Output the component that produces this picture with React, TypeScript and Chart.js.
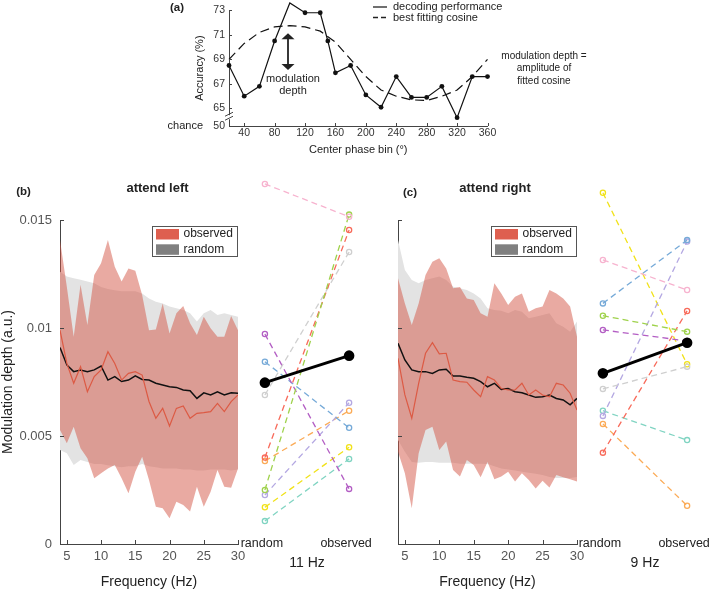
import React, { useEffect, useRef } from 'react';
import { Chart, registerables } from 'chart.js';

Chart.register(...registerables);

const FONT = "'Liberation Sans', Arial, Helvetica, sans-serif";
const AXIS_COLOR = '#444';

// ---------------- Panel (a) ----------------
const phaseBins = [20, 40, 60, 80, 100, 120, 140, 150, 160, 180, 200, 220, 240, 260, 280, 300, 320, 340, 360];
const decodingAccuracy = [68.5, 66.0, 66.8, 70.5, 73.6, 72.8, 72.8, 70.5, 67.9, 68.5, 66.1, 65.1, 67.6, 65.9, 65.9, 66.8, 64.25, 67.6, 67.6];
const cosineBins = [20, 40, 60, 80, 100, 120, 140, 160, 180, 200, 220, 240, 260, 280, 300, 320, 340, 360];
const cosineFit = [69.0, 70.3, 71.2, 71.65, 71.75, 71.65, 71.3, 70.4, 69.0, 67.6, 66.5, 66.0, 65.7, 65.65, 66.0, 66.5, 67.6, 69.0];
const phaseTicks = [40, 80, 120, 160, 200, 240, 280, 320, 360];
const accuracyTicks = [65, 67, 69, 71, 73];
const accuracyAxisBase = 63.57;
const chanceTickLabel = '50';
const legendA = ['decoding performance', 'best fitting cosine'];
const noteA = ['modulation depth =', 'amplitude of', 'fitted cosine'];
const arrowLabel = ['modulation', 'depth'];
const arrowPhase = 97.6;
const arrowSpan = [71.12, 68.14];

// ---------------- Panels (b) and (c) ----------------
const freqs = [4, 5, 6, 7, 8, 9, 10, 11, 12, 13, 14, 15, 16, 17, 18, 19, 20, 21, 22, 23, 24, 25, 26, 27, 28, 29, 30];
const freqTicks = [5, 10, 15, 20, 25, 30];
const depthTicks = [0, 0.005, 0.01, 0.015];
const depthTickLabels = ['0', '0.005', '0.01', '0.015'];
const bandLegendLabels = ['observed', 'random'];
const bandLegendColors = ['#de5f4f', '#808080'];

// attend left (b)
const leftRandUpper = [12.6e-3, 12.38e-3, 12.3e-3, 12.23e-3, 12.15e-3, 12.07e-3, 11.9e-3, 11.8e-3, 11.75e-3, 11.7e-3, 11.7e-3, 11.7e-3, 11.6e-3, 11.37e-3, 11.22e-3, 11.14e-3, 10.99e-3, 10.91e-3, 10.83e-3, 10.68e-3, 10.3e-3, 10.68e-3, 10.83e-3, 10.6e-3, 10.68e-3, 10.6e-3, 10.52e-3];
const leftRandLower = [4.35e-3, 4.2e-3, 3.66e-3, 3.89e-3, 3.8e-3, 3.7e-3, 3.7e-3, 3.65e-3, 3.6e-3, 3.55e-3, 3.6e-3, 3.6e-3, 3.7e-3, 3.6e-3, 3.55e-3, 3.5e-3, 3.5e-3, 3.5e-3, 3.45e-3, 3.45e-3, 3.4e-3, 3.4e-3, 3.45e-3, 3.45e-3, 3.45e-3, 3.4e-3, 3.45e-3];
const leftObsUpper = [14.07e-3, 11.9e-3, 9.6e-3, 12.0e-3, 10.14e-3, 12.45e-3, 13.0e-3, 14.07e-3, 12.84e-3, 12.15e-3, 12.76e-3, 12.65e-3, 11.53e-3, 9.9e-3, 9.93e-3, 11.14e-3, 9.75e-3, 10.68e-3, 11.02e-3, 10.22e-3, 9.68e-3, 10.52e-3, 9.99e-3, 9.6e-3, 9.6e-3, 10.56e-3, 9.9e-3];
const leftObsLower = [5.28e-3, 4.66e-3, 5.43e-3, 4.43e-3, 3.97e-3, 3.04e-3, 3.27e-3, 3.5e-3, 3.66e-3, 3.04e-3, 2.35e-3, 3.35e-3, 4.04e-3, 2.96e-3, 1.73e-3, 1.65e-3, 1.19e-3, 1.96e-3, 1.8e-3, 1.5e-3, 2.65e-3, 1.73e-3, 2.42e-3, 3.43e-3, 2.65e-3, 2.6e-3, 3.5e-3];
const leftRandMean = [9.1e-3, 8.29e-3, 7.98e-3, 8.06e-3, 7.98e-3, 8.06e-3, 8.24e-3, 7.59e-3, 7.75e-3, 7.52e-3, 7.59e-3, 7.78e-3, 7.62e-3, 7.59e-3, 7.44e-3, 7.36e-3, 7.28e-3, 7.25e-3, 7.13e-3, 7.1e-3, 6.74e-3, 7.0e-3, 6.9e-3, 7.05e-3, 6.9e-3, 7.0e-3, 6.98e-3];
const leftObsMean = [9.9e-3, 8.36e-3, 7.44e-3, 8.21e-3, 7.05e-3, 7.75e-3, 8.06e-3, 8.9e-3, 8.36e-3, 7.59e-3, 7.9e-3, 7.98e-3, 7.82e-3, 6.6e-3, 5.82e-3, 6.28e-3, 5.46e-3, 6.28e-3, 6.39e-3, 5.82e-3, 6.05e-3, 6.08e-3, 6.13e-3, 6.51e-3, 6.13e-3, 6.59e-3, 6.9e-3];

// attend right (c)
const rightRandUpper = [14.07e-3, 12.69e-3, 12.22e-3, 12.07e-3, 12.22e-3, 12.3e-3, 12.38e-3, 12.22e-3, 11.91e-3, 11.84e-3, 11.76e-3, 11.6e-3, 11.37e-3, 10.91e-3, 10.83e-3, 10.8e-3, 10.68e-3, 10.83e-3, 10.75e-3, 10.45e-3, 10.52e-3, 10.6e-3, 10.68e-3, 10.22e-3, 10.06e-3, 9.83e-3, 10.3e-3];
const rightRandLower = [4.81e-3, 4.27e-3, 3.8e-3, 3.76e-3, 3.8e-3, 3.8e-3, 3.76e-3, 3.76e-3, 3.76e-3, 3.72e-3, 3.72e-3, 3.72e-3, 3.72e-3, 3.7e-3, 3.6e-3, 3.5e-3, 3.45e-3, 3.4e-3, 3.35e-3, 3.3e-3, 3.25e-3, 3.2e-3, 3.1e-3, 3.05e-3, 3.05e-3, 3.05e-3, 3.1e-3];
const rightObsUpper = [12.3e-3, 11.14e-3, 10.14e-3, 11.14e-3, 12.45e-3, 13.07e-3, 13.23e-3, 12.76e-3, 11.84e-3, 11.9e-3, 11.37e-3, 11.3e-3, 10.68e-3, 10.52e-3, 12.07e-3, 11.6e-3, 11.07e-3, 11.45e-3, 11.6e-3, 10.75e-3, 10.91e-3, 11.0e-3, 11.76e-3, 11.6e-3, 11.37e-3, 11.0e-3, 9.6e-3];
const rightObsLower = [4.27e-3, 3.27e-3, 1.65e-3, 4.2e-3, 5.28e-3, 5.43e-3, 4.35e-3, 4.74e-3, 3.43e-3, 3.12e-3, 3.89e-3, 3.66e-3, 3.09e-3, 3.8e-3, 3.0e-3, 3.12e-3, 3.35e-3, 2.89e-3, 3.27e-3, 2.96e-3, 2.57e-3, 2.93e-3, 2.62e-3, 3.2e-3, 3.09e-3, 3.0e-3, 2.89e-3];
const rightRandMean = [9.29e-3, 8.52e-3, 8.06e-3, 7.98e-3, 7.98e-3, 7.9e-3, 8.06e-3, 8.09e-3, 7.78e-3, 7.78e-3, 7.72e-3, 7.67e-3, 7.52e-3, 7.28e-3, 7.44e-3, 7.16e-3, 7.2e-3, 7.05e-3, 7.0e-3, 6.9e-3, 6.79e-3, 6.82e-3, 6.9e-3, 6.74e-3, 6.67e-3, 6.44e-3, 6.74e-3];
const rightObsMean = [8.6e-3, 6.9e-3, 5.82e-3, 7.44e-3, 8.83e-3, 9.32e-3, 8.8e-3, 8.83e-3, 7.59e-3, 7.52e-3, 7.49e-3, 7.13e-3, 6.82e-3, 7.75e-3, 7.59e-3, 7.2e-3, 7.13e-3, 7.13e-3, 7.44e-3, 6.9e-3, 7.13e-3, 6.9e-3, 6.82e-3, 7.44e-3, 7.36e-3, 6.98e-3, 6.2e-3];

// paired subjects (pink, green, red, gray, purple, blue, lavender, orange, yellow, teal)
const pairCategories = ['random', 'observed'];
const pairColors = ['#f7b3cf', '#9fd24c', '#f86a5a', '#cfcfcf', '#b35ec4', '#76aad8', '#b4a8e2', '#fbab57', '#f1e21a', '#80d4c2'];
const pairLeftRandom = [16.67e-3, 2.5e-3, 4.0e-3, 6.9e-3, 9.72e-3, 8.44e-3, 2.27e-3, 3.84e-3, 1.7e-3, 1.06e-3];
const pairLeftObserved = [15.15e-3, 15.25e-3, 14.54e-3, 13.52e-3, 2.55e-3, 5.38e-3, 6.54e-3, 6.17e-3, 4.48e-3, 3.94e-3];
const pairLeftMean = [7.47e-3, 8.72e-3];
const pairRightRandom = [13.15e-3, 10.57e-3, 4.23e-3, 7.18e-3, 9.91e-3, 11.14e-3, 5.93e-3, 5.56e-3, 16.26e-3, 6.17e-3];
const pairRightObserved = [11.76e-3, 9.83e-3, 10.79e-3, 8.21e-3, 9.4e-3, 14.07e-3, 14.0e-3, 1.77e-3, 8.32e-3, 4.81e-3];
const pairRightMean = [7.9e-3, 9.32e-3];

// ---------------- helpers ----------------
function drawInwardTicks(chart: any, xVals: number[], yVals: number[], len: number) {
  const { ctx, chartArea: a, scales } = chart;
  ctx.save();
  ctx.strokeStyle = AXIS_COLOR;
  ctx.lineWidth = 1;
  ctx.beginPath();
  xVals.forEach((v) => {
    const p = Math.round(scales.x.getPixelForValue(v)) + 0.5;
    ctx.moveTo(p, a.bottom);
    ctx.lineTo(p, a.bottom - len);
  });
  yVals.forEach((v) => {
    const p = Math.round(scales.y.getPixelForValue(v)) + 0.5;
    ctx.moveTo(a.left, p);
    ctx.lineTo(a.left + len, p);
  });
  ctx.stroke();
  ctx.restore();
}

const panelAPlugin = {
  id: 'panelADecor',
  afterDraw(chart: any) {
    const { ctx, chartArea: a, scales } = chart;
    const x = scales.x;
    const y = scales.y;
    drawInwardTicks(chart, phaseTicks, accuracyTicks, 3);
    ctx.save();
    // axis break
    const yb = (y.getPixelForValue(accuracyAxisBase) + y.getPixelForValue(accuracyTicks[0])) / 2;
    ctx.fillStyle = '#fff';
    ctx.fillRect(a.left - 2, yb - 2, 4, 4);
    ctx.strokeStyle = AXIS_COLOR;
    ctx.lineWidth = 1;
    ctx.beginPath();
    ctx.moveTo(a.left - 4, yb - 1);
    ctx.lineTo(a.left + 4, yb - 5);
    ctx.moveTo(a.left - 4, yb + 3);
    ctx.lineTo(a.left + 4, yb - 1);
    ctx.stroke();
    // chance label
    ctx.fillStyle = '#222';
    ctx.font = `11px ${FONT}`;
    ctx.textAlign = 'right';
    ctx.textBaseline = 'middle';
    ctx.fillText('chance', a.left - 26, y.getPixelForValue(accuracyAxisBase));
    // panel label
    ctx.font = `bold 11.5px ${FONT}`;
    ctx.fillText('(a)', 184, 8);
    // arrow
    const ax = x.getPixelForValue(arrowPhase);
    const y1 = y.getPixelForValue(arrowSpan[0]);
    const y2 = y.getPixelForValue(arrowSpan[1]);
    ctx.strokeStyle = '#222';
    ctx.fillStyle = '#222';
    ctx.lineWidth = 1.8;
    ctx.beginPath();
    ctx.moveTo(ax, y1 + 5);
    ctx.lineTo(ax, y2 - 5);
    ctx.stroke();
    ctx.beginPath();
    ctx.moveTo(ax, y1);
    ctx.lineTo(ax - 6.5, y1 + 6);
    ctx.lineTo(ax + 6.5, y1 + 6);
    ctx.closePath();
    ctx.fill();
    ctx.beginPath();
    ctx.moveTo(ax, y2);
    ctx.lineTo(ax - 6.5, y2 - 6);
    ctx.lineTo(ax + 6.5, y2 - 6);
    ctx.closePath();
    ctx.fill();
    ctx.font = `11px ${FONT}`;
    ctx.textAlign = 'center';
    ctx.fillText(arrowLabel[0], ax + 5, y2 + 9);
    ctx.fillText(arrowLabel[1], ax + 5, y2 + 21);
    // legend
    ctx.lineWidth = 1.3;
    ctx.beginPath();
    ctx.moveTo(373, 7);
    ctx.lineTo(387, 7);
    ctx.stroke();
    ctx.setLineDash([5, 3]);
    ctx.beginPath();
    ctx.moveTo(373, 17.5);
    ctx.lineTo(388, 17.5);
    ctx.stroke();
    ctx.setLineDash([]);
    ctx.textAlign = 'left';
    ctx.fillText(legendA[0], 393, 7);
    ctx.fillText(legendA[1], 393, 17.5);
    // note
    ctx.font = `10px ${FONT}`;
    ctx.textAlign = 'center';
    noteA.forEach((t, i) => ctx.fillText(t, 544, 56.5 + i * 12.2));
    ctx.restore();
  },
};

function panelAConfig(): any {
  return {
    type: 'line',
    data: {
      datasets: [
        {
          label: legendA[0],
          data: phaseBins.map((x, i) => ({ x, y: decodingAccuracy[i] })),
          borderColor: '#111',
          backgroundColor: '#111',
          borderWidth: 1.2,
          pointRadius: 2.4,
          pointBackgroundColor: '#111',
          pointBorderWidth: 0,
          clip: false,
          order: 1,
        },
        {
          label: legendA[1],
          data: cosineBins.map((x, i) => ({ x, y: cosineFit[i] })),
          borderColor: '#111',
          borderWidth: 1.2,
          borderDash: [9, 5],
          pointRadius: 0,
          clip: false,
          order: 2,
        },
      ],
    },
    options: {
      responsive: false,
      animation: false,
      events: [],
      layout: { padding: { left: 189, right: 221.5, top: 9, bottom: 0 }, autoPadding: false },
      plugins: { legend: { display: false }, tooltip: { enabled: false }, title: { display: false } },
      scales: {
        x: {
          type: 'linear',
          min: 20,
          max: 360,
          afterBuildTicks: (s: any) => { s.ticks = phaseTicks.map((value) => ({ value })); },
          afterFit: (s: any) => { s.height = 34; },
          grid: { display: false, drawTicks: false },
          border: { display: true, color: AXIS_COLOR, width: 1 },
          ticks: { font: { size: 10.5 }, color: '#333', padding: 1, maxRotation: 0, autoSkip: false },
          title: { display: true, text: 'Center phase bin (°)', font: { size: 11 }, color: '#222', padding: { top: 0, bottom: 3 } },
        },
        y: {
          type: 'linear',
          min: accuracyAxisBase,
          max: 73,
          afterBuildTicks: (s: any) => { s.ticks = [accuracyAxisBase, ...accuracyTicks].map((value) => ({ value })); },
          afterFit: (s: any) => { s.width = 40; },
          grid: { display: false, drawTicks: false },
          border: { display: true, color: AXIS_COLOR, width: 1 },
          ticks: {
            font: { size: 10.5 },
            color: '#333',
            padding: 4,
            autoSkip: false,
            callback: (_v: any, i: number) => (i === 0 ? chanceTickLabel : String(accuracyTicks[i - 1])),
          },
          title: { display: true, text: 'Accuracy (%)', font: { size: 11 }, color: '#222', padding: { top: 4, bottom: 0 } },
        },
      },
    },
    plugins: [panelAPlugin],
  };
}

type Bands = {
  randUpper: number[];
  randLower: number[];
  obsUpper: number[];
  obsLower: number[];
  randMean: number[];
  obsMean: number[];
};

function bandPlugin(panelLabel: string, labelPos: [number, number]) {
  return {
    id: 'bandDecor',
    afterDraw(chart: any) {
      const { ctx, chartArea: a } = chart;
      drawInwardTicks(chart, freqTicks, depthTicks.slice(1), 4);
      const w = 86;
      const h = 31;
      const bx = a.right - w;
      const by = a.top + 6;
      ctx.save();
      ctx.fillStyle = '#fff';
      ctx.fillRect(bx, by, w, h);
      ctx.strokeStyle = '#555';
      ctx.lineWidth = 1;
      ctx.strokeRect(Math.round(bx) + 0.5, Math.round(by) + 0.5, w - 1, h - 1);
      ctx.font = `12px ${FONT}`;
      ctx.textBaseline = 'middle';
      ctx.textAlign = 'left';
      bandLegendLabels.forEach((lab, i) => {
        const cy = by + 8 + i * 15.3;
        ctx.fillStyle = bandLegendColors[i];
        ctx.fillRect(bx + 4, cy - 5, 23, 10.5);
        ctx.fillStyle = '#222';
        ctx.fillText(lab, bx + 31.5, cy);
      });
      ctx.font = `bold 11.5px ${FONT}`;
      ctx.textAlign = 'center';
      ctx.fillStyle = '#222';
      ctx.fillText(panelLabel, labelPos[0], labelPos[1]);
      ctx.restore();
    },
  };
}

function bandConfig(b: Bands, title: string, panelLabel: string, labelPos: [number, number], showY: boolean, yWidth: number, rightWidth: number): any {
  const pts = (arr: number[]) => freqs.map((f, i) => ({ x: f, y: arr[i] }));
  const band = { pointRadius: 0, borderWidth: 0, borderColor: 'rgba(0,0,0,0)' };
  return {
    type: 'line',
    data: {
      datasets: [
        { ...band, label: 'random upper', data: pts(b.randUpper), fill: '+1', backgroundColor: '#e3e3e3', order: 6 },
        { ...band, label: 'random lower', data: pts(b.randLower), fill: false, order: 5 },
        { ...band, label: 'observed upper', data: pts(b.obsUpper), fill: '+1', backgroundColor: 'rgba(212,86,70,0.5)', order: 4 },
        { ...band, label: 'observed lower', data: pts(b.obsLower), fill: false, order: 3 },
        { label: 'random', data: pts(b.randMean), borderColor: '#111', borderWidth: 1.5, pointRadius: 0, fill: false, order: 2 },
        { label: 'observed', data: pts(b.obsMean), borderColor: '#dc5a44', borderWidth: 1.2, pointRadius: 0, fill: false, order: 1 },
      ],
    },
    options: {
      responsive: false,
      animation: false,
      events: [],
      layout: { padding: 0, autoPadding: false },
      plugins: {
        legend: { display: false },
        tooltip: { enabled: false },
        title: {
          display: true,
          text: title,
          font: { size: 13, weight: 'bold' },
          color: '#222',
          padding: { top: 20.5, bottom: 23.9 },
        },
      },
      scales: {
        x: {
          type: 'linear',
          min: 4,
          max: 30,
          afterBuildTicks: (s: any) => { s.ticks = freqTicks.map((value) => ({ value })); },
          afterFit: (s: any) => { s.height = 47; },
          grid: { display: false, drawTicks: false },
          border: { display: true, color: AXIS_COLOR, width: 1 },
          ticks: { font: { size: 13 }, color: '#555', padding: 5, maxRotation: 0, autoSkip: false },
          title: { display: true, text: 'Frequency (Hz)', font: { size: 14 }, color: '#222', padding: { top: 0, bottom: 0 } },
        },
        y: {
          type: 'linear',
          min: 0,
          max: 0.015,
          afterBuildTicks: (s: any) => { s.ticks = depthTicks.map((value) => ({ value })); },
          afterFit: (s: any) => { s.width = yWidth; },
          grid: { display: false, drawTicks: false },
          border: { display: true, color: AXIS_COLOR, width: 1 },
          ticks: {
            display: showY,
            font: { size: 13 },
            color: '#555',
            padding: 8,
            autoSkip: false,
            callback: (_v: any, i: number) => depthTickLabels[i],
          },
          title: { display: showY, text: 'Modulation depth (a.u.)', font: { size: 14 }, color: '#222', padding: { top: 0, bottom: 0 } },
        },
        yR: {
          type: 'linear',
          position: 'right',
          display: true,
          afterFit: (s: any) => { s.width = rightWidth; },
          grid: { display: false, drawTicks: false },
          border: { display: false },
          ticks: { display: false },
        },
      },
    },
    plugins: [bandPlugin(panelLabel, labelPos)],
  };
}

function pairConfig(randomVals: number[], observedVals: number[], meanVals: number[], hzLabel: string): any {
  const datasets: any[] = pairColors.map((c, i) => ({
    label: `subject ${i + 1}`,
    data: [
      { x: 0, y: randomVals[i] },
      { x: 1, y: observedVals[i] },
    ],
    borderColor: c,
    borderWidth: 1.3,
    borderDash: [6, 4],
    pointRadius: 2.6,
    pointBorderColor: c,
    pointBackgroundColor: 'rgba(255,255,255,0)',
    pointBorderWidth: 1.3,
    clip: false,
    order: 2,
  }));
  datasets.push({
    label: 'mean',
    data: [
      { x: 0, y: meanVals[0] },
      { x: 1, y: meanVals[1] },
    ],
    borderColor: '#000',
    borderWidth: 3,
    pointRadius: 3.8,
    pointBackgroundColor: '#000',
    pointBorderColor: '#000',
    clip: false,
    order: 1,
  });
  return {
    type: 'line',
    data: { datasets },
    options: {
      responsive: false,
      animation: false,
      events: [],
      layout: { padding: 0, autoPadding: false },
      plugins: { legend: { display: false }, tooltip: { enabled: false } },
      scales: {
        x: {
          type: 'linear',
          min: -0.45,
          max: 1.45,
          afterBuildTicks: (s: any) => { s.ticks = pairCategories.map((_c, i) => ({ value: i })); },
          afterFit: (s: any) => { s.height = 42; },
          grid: { display: false, drawTicks: false },
          border: { display: false },
          ticks: {
            font: { size: 12.5 },
            color: '#222',
            padding: 6,
            labelOffset: -3,
            maxRotation: 0,
            autoSkip: false,
            callback: (_v: any, i: number) => pairCategories[i],
          },
          title: { display: true, text: hzLabel, font: { size: 14 }, color: '#222', padding: { top: 0, bottom: 0 } },
        },
        y: {
          type: 'linear',
          display: false,
          min: 0.000648,
          max: 0.017315,
        },
      },
    },
  };
}

export default function App() {
  const aRef = useRef<HTMLCanvasElement>(null);
  const bRef = useRef<HTMLCanvasElement>(null);
  const bpRef = useRef<HTMLCanvasElement>(null);
  const cRef = useRef<HTMLCanvasElement>(null);
  const cpRef = useRef<HTMLCanvasElement>(null);

  useEffect(() => {
    Chart.defaults.font.family = FONT;
    Chart.defaults.color = '#222';
    const left: Bands = {
      randUpper: leftRandUpper,
      randLower: leftRandLower,
      obsUpper: leftObsUpper,
      obsLower: leftObsLower,
      randMean: leftRandMean,
      obsMean: leftObsMean,
    };
    const right: Bands = {
      randUpper: rightRandUpper,
      randLower: rightRandLower,
      obsUpper: rightObsUpper,
      obsLower: rightObsLower,
      randMean: rightRandMean,
      obsMean: rightObsMean,
    };
    const charts = [
      new Chart(aRef.current!, panelAConfig()),
      new Chart(bRef.current!, bandConfig(left, 'attend left', '(b)', [23.5, 31.7], true, 60, 77)),
      new Chart(cRef.current!, bandConfig(right, 'attend right', '(c)', [32, 33], false, 20, 35)),
      new Chart(bpRef.current!, pairConfig(pairLeftRandom, pairLeftObserved, pairLeftMean, '11 Hz')),
      new Chart(cpRef.current!, pairConfig(pairRightRandom, pairRightObserved, pairRightMean, '9 Hz')),
    ];
    return () => charts.forEach((c) => c.destroy());
  }, []);

  const abs = (left: number, top: number): React.CSSProperties => ({ position: 'absolute', left, top });

  return (
    <div style={{ position: 'fixed', left: 0, top: 0, width: 709, height: 591, background: '#fff', overflow: 'hidden' }}>
      <canvas ref={aRef} width={709} height={160} style={abs(0, 0)} />
      <canvas ref={bRef} width={315} height={431} style={abs(0, 160)} />
      <canvas ref={cRef} width={234} height={431} style={abs(378, 160)} />
      <canvas ref={bpRef} width={160} height={402} style={abs(227, 170)} />
      <canvas ref={cpRef} width={160} height={402} style={abs(565, 170)} />
    </div>
  );
}
